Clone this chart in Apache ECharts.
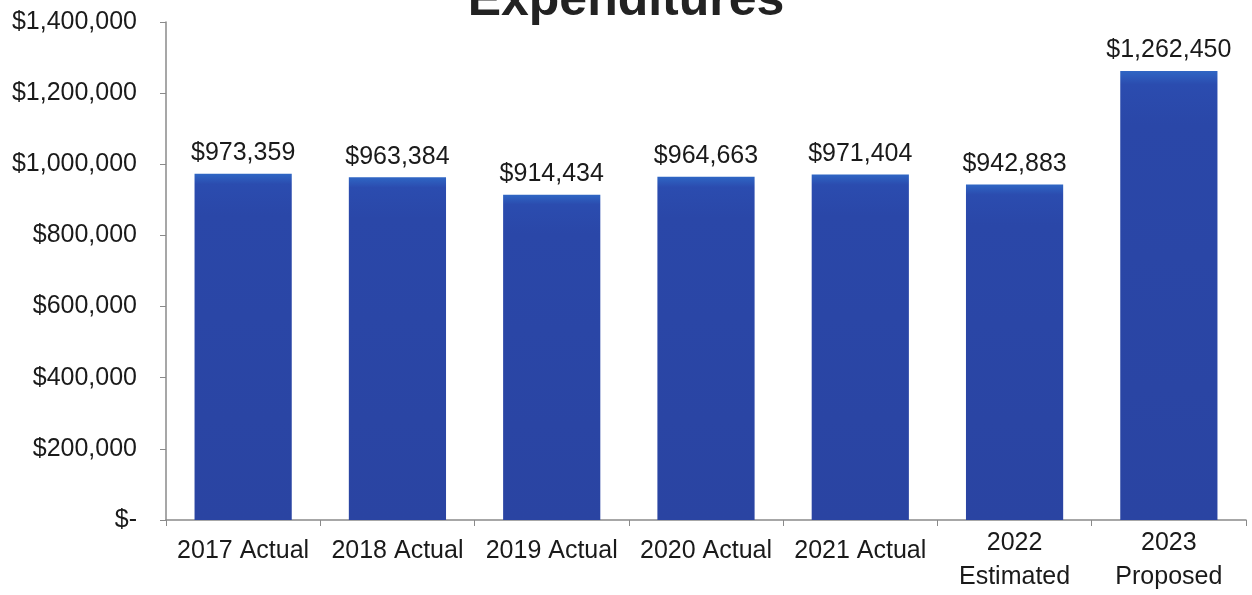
<!DOCTYPE html>
<html>
<head>
<meta charset="utf-8">
<script src="https://cdn.jsdelivr.net/npm/echarts@6/dist/echarts.min.js"></script>
<style>
  html, body { margin: 0; padding: 0; background: #fff; }
  #chart { width: 1252px; height: 595px; }
</style>
</head>
<body>
<div id="chart"></div>
<script>
// Annual expenditures by year
const categories = ['2017 Actual', '2018 Actual', '2019 Actual', '2020 Actual', '2021 Actual', '2022\nEstimated', '2023\nProposed'];
const expenditures = [973359, 963384, 914434, 964663, 971404, 942883, 1262450];
const yTicks = [0, 200000, 400000, 600000, 800000, 1000000, 1200000, 1400000];

const FONT = 'Liberation Sans, Arial, sans-serif';
const money = v => v === 0 ? '$-' : '$' + v.toLocaleString('en-US');

// single-line category labels sit a little lower than the two-line ones
const axisData = categories.map(c => c.indexOf('\n') < 0
  ? { value: c, textStyle: { padding: [8, 0, 0, 0] } }
  : c);

const chart = echarts.init(document.getElementById('chart'));
chart.setOption({
  animation: false,
  title: {
    text: 'Expenditures',
    left: 'center',
    top: -29,
    textStyle: { fontFamily: FONT, fontSize: 50, fontWeight: 'bold', color: '#222' }
  },
  grid: { left: 166, right: 6, top: 22, bottom: 75, containLabel: false },
  xAxis: {
    type: 'category',
    data: axisData,
    axisLine: { lineStyle: { color: '#8a8a8a', width: 1.5 } },
    axisTick: { show: true, length: 6, lineStyle: { color: '#8a8a8a' } },
    axisLabel: {
      color: '#1a1a1a', fontSize: 25, fontFamily: FONT,
      lineHeight: 34, margin: 6, interval: 0
    }
  },
  yAxis: {
    type: 'value',
    min: yTicks[0],
    max: yTicks[yTicks.length - 1],
    interval: 200000,
    splitLine: { show: false },
    axisLine: { show: true, lineStyle: { color: '#8a8a8a', width: 1.5 } },
    axisTick: { show: true, length: 6, lineStyle: { color: '#8a8a8a' } },
    axisLabel: {
      color: '#1a1a1a', fontSize: 25, fontFamily: FONT,
      margin: 29, formatter: money
    }
  },
  series: [{
    type: 'bar',
    data: expenditures,
    barWidth: '63%',
    itemStyle: {
      color: new echarts.graphic.LinearGradient(0, 0, 0, 1, [
        { offset: 0, color: '#2f66c4' },
        { offset: 0.03, color: '#2b4caf' },
        { offset: 0.12, color: '#2a47a8' },
        { offset: 1, color: '#2a44a2' }
      ])
    },
    label: {
      show: true,
      position: 'top',
      distance: 8,
      color: '#1a1a1a',
      fontSize: 25,
      fontFamily: FONT,
      formatter: p => money(p.value)
    }
  }]
});
</script>
</body>
</html>
